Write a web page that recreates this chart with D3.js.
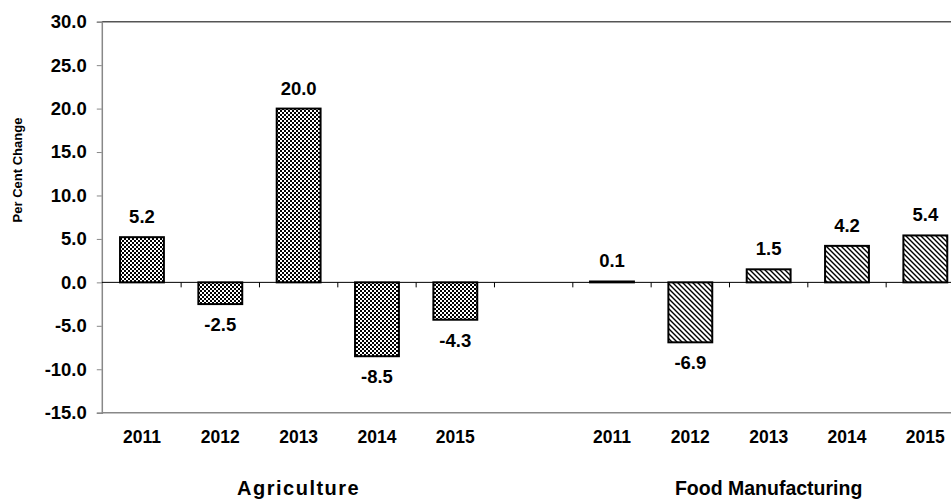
<!DOCTYPE html>
<html>
<head>
<meta charset="utf-8">
<script src="https://cdn.jsdelivr.net/npm/d3@7"></script>
<style>
html,body{margin:0;padding:0;background:#fff;}
svg text{font-family:"Liberation Sans",Arial,sans-serif;font-weight:bold;fill:#000;}
</style>
</head>
<body>
<svg id="chart" width="951" height="504"></svg>
<script>
const groups = ["Agriculture", "Food Manufacturing"];
const years = ["2011", "2012", "2013", "2014", "2015"];
const agriValues = [5.2, -2.5, 20.0, -8.5, -4.3];
const foodValues = [0.1, -6.9, 1.5, 4.2, 5.4];
const yTicks = [30, 25, 20, 15, 10, 5, 0, -5, -10, -15];
const yTitle = "Per Cent Change";

(function () {
const fmt = v => d3.format(".1f")(v).replace("\u2212", "-");
const slots = [];
years.forEach((yr, i) => slots.push({key: "a" + i, year: yr, value: agriValues[i], group: 0}));
slots.push({key: "gap", year: "", value: null, group: -1});
years.forEach((yr, i) => slots.push({key: "f" + i, year: yr, value: foodValues[i], group: 1}));

const svg = d3.select("#chart");
const mLeft = 102.8, mRight = 964.5, mTop = 21.7, mBottom = 412.7;

const x = d3.scaleBand().domain(slots.map(d => d.key)).range([mLeft, mRight]).paddingInner(0.44).paddingOuter(0.22);
const xOuter = d3.scaleBand().domain(slots.map(d => d.key)).range([mLeft, mRight]).padding(0);
const y = d3.scaleLinear().domain([-15, 30]).range([mBottom, mTop]);

const defs = svg.append("defs");
const p1 = defs.append("pattern").attr("id", "checker").attr("patternUnits", "userSpaceOnUse")
  .attr("width", 4).attr("height", 4);
p1.append("rect").attr("width", 4).attr("height", 4).attr("fill", "#000");
p1.append("rect").attr("x", 0).attr("y", 0).attr("width", 2).attr("height", 2).attr("fill", "#fff");
p1.append("rect").attr("x", 2).attr("y", 2).attr("width", 2).attr("height", 2).attr("fill", "#fff");
const p2 = defs.append("pattern").attr("id", "diag").attr("patternUnits", "userSpaceOnUse")
  .attr("width", 5).attr("height", 5);
p2.append("rect").attr("width", 5).attr("height", 5).attr("fill", "#fff");
p2.append("path").attr("d", "M-1,-1 L6,6 M-1,4 L1,6 M4,-1 L6,1")
  .attr("stroke", "#000").attr("stroke-width", 1.4);

svg.append("line").attr("x1", mLeft - 1).attr("x2", 951).attr("y1", y(30)).attr("y2", y(30))
  .attr("stroke", "#555").attr("stroke-width", 1.5);
svg.append("line").attr("x1", mLeft - 1).attr("x2", 951).attr("y1", y(-15)).attr("y2", y(-15))
  .attr("stroke", "#888").attr("stroke-width", 1.5);

const yAxis = d3.axisLeft(y).tickValues(yTicks).tickSize(5).tickPadding(10).tickFormat(fmt);
const ga = svg.append("g").attr("transform", `translate(${mLeft - 1},0)`).call(yAxis);
ga.select(".domain").attr("stroke", "#888").attr("stroke-width", 1.5);
ga.selectAll(".tick line").attr("stroke", "#888");
ga.selectAll(".tick text").attr("font-size", 18.5).style("font-family", "Liberation Sans, Arial, sans-serif").style("font-weight", "bold").attr("fill", "#000");

svg.append("g").selectAll("rect").data(slots.filter(d => d.value !== null)).join("rect")
  .attr("x", d => x(d.key))
  .attr("width", x.bandwidth())
  .attr("y", d => y(Math.max(0, d.value)))
  .attr("height", d => Math.abs(y(d.value) - y(0)))
  .attr("fill", d => d.group === 0 ? "url(#checker)" : "url(#diag)")
  .attr("stroke", "#000").attr("stroke-width", 2);

svg.append("line").attr("x1", mLeft - 1).attr("x2", 951).attr("y1", y(0)).attr("y2", y(0))
  .attr("stroke", "#000").attr("stroke-width", 1);
svg.append("g").selectAll("line").data(slots.slice(1)).join("line")
  .attr("x1", d => xOuter(d.key)).attr("x2", d => xOuter(d.key))
  .attr("y1", y(0)).attr("y2", y(0) + 5).attr("stroke", "#000").attr("stroke-width", 1);

svg.append("g").selectAll("text").data(slots.filter(d => d.value !== null)).join("text")
  .attr("x", d => x(d.key) + x.bandwidth() / 2)
  .attr("y", d => d.value >= 0 ? y(d.value) - 14 : y(d.value) + 27)
  .attr("text-anchor", "middle").attr("font-size", 18.5)
  .text(d => fmt(d.value));

svg.append("g").selectAll("text").data(slots.filter(d => d.year)).join("text")
  .attr("x", d => x(d.key) + x.bandwidth() / 2)
  .attr("y", 443)
  .attr("text-anchor", "middle").attr("font-size", 17.5)
  .text(d => d.year);

groups.forEach((g, gi) => {
  const ks = slots.filter(d => d.group === gi);
  const cx = (x(ks[0].key) + x(ks[ks.length - 1].key) + x.bandwidth()) / 2;
  svg.append("text").attr("x", cx).attr("y", 495).attr("text-anchor", "middle")
    .attr("font-size", gi === 0 ? 20 : 19.5).attr("letter-spacing", gi === 0 ? 1.5 : 0).text(g);
});

svg.append("text").attr("transform", "translate(22,170) rotate(-90)")
  .attr("text-anchor", "middle").attr("font-size", 13).text(yTitle);
})();
</script>
</body>
</html>
